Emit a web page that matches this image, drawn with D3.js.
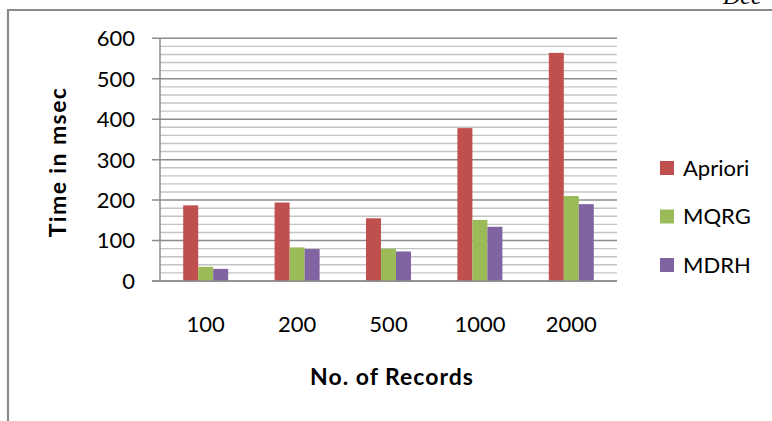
<!DOCTYPE html>
<html>
<head>
<meta charset="utf-8">
<script src="https://cdn.jsdelivr.net/npm/d3@7"></script>
<style>
  html, body { margin: 0; padding: 0; background: #fff; }
  svg { display: block; }
  text { font-family: Lato, "Open Sans", sans-serif; fill: #000; }
</style>
</head>
<body>
<svg id="chart" width="772" height="421"></svg>
<script>
// Execution time per algorithm for each record count
const categories = ["100", "200", "500", "1000", "2000"];
const seriesNames = ["Apriori", "MQRG", "MDRH"];
const apriori = [187, 194, 155, 378, 564];
const mqrg = [35, 83, 80, 151, 210];
const mdrh = [30, 79, 73, 134, 190];
const yTicks = [0, 100, 200, 300, 400, 500, 600];
const colors = ["#C0504D", "#9BBB59", "#8064A2"];

const seriesValues = [apriori, mqrg, mdrh];

const svg = d3.select("#chart");
const W = 772, H = 421;

// Outer frame (runs past the right and bottom edges)
svg.append("path")
  .attr("d", `M8,${H + 5} L8,10 L${W + 5},10`)
  .attr("fill", "none")
  .attr("stroke", "#8a8a8a")
  .attr("stroke-width", 2.2);

// Running header, clipped by the top of the page
svg.append("text")
  .attr("x", 723).attr("y", 4)
  .style("font-family", "'Liberation Serif', serif")
  .style("font-style", "italic")
  .style("font-size", "24px")
  .text("Dec");

const plot = { left: 160, right: 617, top: 38.3, bottom: 281 };

const y = d3.scaleLinear().domain([0, 600]).range([plot.bottom, plot.top]);
const x = d3.scaleBand().domain(categories).range([plot.left, plot.right]).paddingInner(0).paddingOuter(0);
const barW = 15;
const xs = d3.scaleBand().domain(seriesNames).range([0, barW * 3]);

// Minor gridlines every 20
const minor = d3.range(20, 600, 20).filter(v => v % 100 !== 0);
svg.append("g").selectAll("line").data(minor).join("line")
  .attr("x1", plot.left).attr("x2", plot.right)
  .attr("y1", d => y(d)).attr("y2", d => y(d))
  .attr("stroke", "#c4c4c4").attr("stroke-width", 1.4);

// Major gridlines with tick stubs to the left of the axis
svg.append("g").selectAll("line").data(yTicks).join("line")
  .attr("x1", plot.left - 8).attr("x2", plot.right)
  .attr("y1", d => y(d)).attr("y2", d => y(d))
  .attr("stroke", "#8c8c8c").attr("stroke-width", 1.5);

// Y axis line
svg.append("line")
  .attr("x1", plot.left).attr("x2", plot.left)
  .attr("y1", plot.top).attr("y2", plot.bottom)
  .attr("stroke", "#8c8c8c").attr("stroke-width", 1.5);

// Y tick labels
svg.append("g").selectAll("text").data(yTicks).join("text")
  .attr("x", 135).attr("y", d => y(d))
  .attr("dy", "0.36em")
  .attr("text-anchor", "end")
  .style("font-size", "22px")
  .text(d => d);

// Bars
const groups = svg.append("g").selectAll("g").data(categories).join("g")
  .attr("transform", d => `translate(${x(d) + (x.bandwidth() - barW * 3) / 2},0)`);

groups.selectAll("rect")
  .data((c, i) => seriesNames.map((s, k) => ({ s, k, v: seriesValues[k][i] })))
  .join("rect")
  .attr("x", d => xs(d.s))
  .attr("width", xs.bandwidth())
  .attr("y", d => y(d.v))
  .attr("height", d => y(0) - y(d.v))
  .attr("fill", (d) => colors[d.k]);

// Baseline drawn above bars
svg.append("line")
  .attr("x1", plot.left - 8).attr("x2", plot.right)
  .attr("y1", y(0)).attr("y2", y(0))
  .attr("stroke", "#8c8c8c").attr("stroke-width", 1.5);

// X tick labels
svg.append("g").selectAll("text").data(categories).join("text")
  .attr("x", d => x(d) + x.bandwidth() / 2)
  .attr("y", 331.5)
  .attr("text-anchor", "middle")
  .style("font-size", "22px")
  .text(d => d);

// Axis titles
svg.append("text")
  .attr("x", 392).attr("y", 385)
  .attr("text-anchor", "middle")
  .style("font-size", "23px").style("font-weight", "bold")
  .style("letter-spacing", "1px")
  .text("No. of Records");

svg.append("text")
  .attr("transform", "translate(66,162) rotate(-90)")
  .attr("text-anchor", "middle")
  .style("font-size", "23px").style("font-weight", "bold")
  .style("letter-spacing", "1.4px")
  .text("Time in msec");

// Legend
const legend = svg.append("g").selectAll("g").data(seriesNames).join("g")
  .attr("transform", (d, i) => `translate(660,${168 + i * 48.5})`);
legend.append("rect")
  .attr("x", 0).attr("y", -7).attr("width", 14).attr("height", 14)
  .attr("fill", (d, i) => colors[i]);
legend.append("text")
  .attr("x", 23).attr("y", 0).attr("dy", "0.36em")
  .style("font-size", "22px")
  .text(d => d);
</script>
</body>
</html>
